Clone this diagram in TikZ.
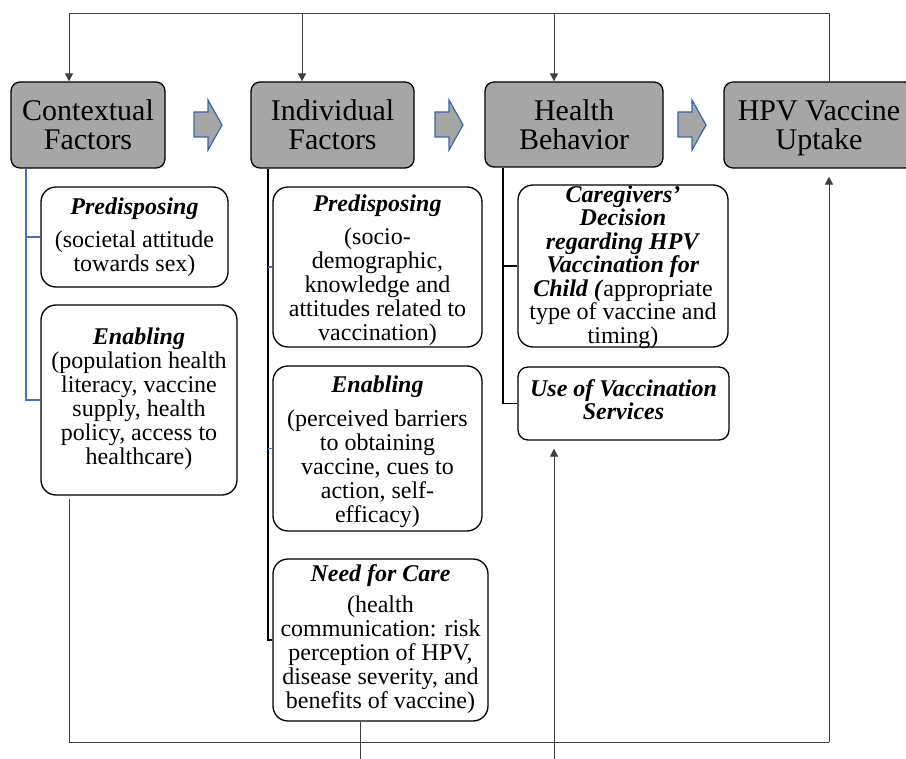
\documentclass[tikz,border=0pt]{standalone}
\usepackage{fontspec}
\setmainfont{Liberation Serif}
\usetikzlibrary{arrows.meta}
\definecolor{hdrgray}{HTML}{A6A6A6}
\definecolor{arrblue}{HTML}{3A64B0}
\definecolor{lnblue}{HTML}{4472C4}
\definecolor{lngray}{HTML}{404040}
\newcommand{\hdg}[1]{\textbf{\textit{#1}}}
\begin{document}
\begin{tikzpicture}[x=1pt,y=-1pt,
  hdr/.style={draw=black, line width=1.3pt, fill=hdrgray, rounded corners=9pt, inner sep=0pt,
              align=center, font=\fontsize{30}{29}\selectfont},
  sub/.style={draw=black, line width=1.3pt, fill=white, rounded corners=15pt, inner sep=0pt},
  txt/.style={align=center, inner sep=0pt, font=\fontsize{24}{24}\selectfont},
  conn/.style={draw=lngray, line width=1pt},
  arr/.style={conn, -{Triangle[length=8pt,width=8pt]}},
  barrow/.style={draw=arrblue, fill=hdrgray, line width=1.2pt, line join=miter},
  bline/.style={draw=lnblue, line width=1.1pt},
  kline/.style={draw=black, line width=1.2pt}
]
\useasboundingbox (0,0) rectangle (906,759);

% header boxes
\node[hdr, minimum width=154pt, minimum height=86pt] (ctx) at (88,125) {Contextual\\Factors};
\node[hdr, minimum width=163pt, minimum height=86pt] (ind) at (332.5,125) {Individual\\Factors};
\node[hdr, minimum width=178pt, minimum height=85pt] (hb) at (574,124.5) {Health\\Behavior};
\node[hdr, minimum width=190pt, minimum height=86pt] (hpv) at (819,125) {HPV Vaccine\\\raisebox{0pt}[\height][0pt]{Uptake}};

% block arrows
\foreach \x in {194,435,678}
  \path[barrow] (\x,112) -- ({\x+14},112) -- ({\x+14},100) -- ({\x+28},125)
        -- ({\x+14},150) -- ({\x+14},137) -- (\x,137) -- cycle;

% contextual sub-boxes
\node[sub, minimum width=187pt, minimum height=100pt] (cp) at (134.5,237) {};
\node[txt] (cpt) at (134.5,237.5) {\hdg{Predisposing}\\[9pt](societal attitude\\towards sex)};
\node[sub, minimum width=196pt, minimum height=190pt] (ce) at (139,400) {};
\node[txt] (cet) at (139,399) {\hdg{Enabling}\\(population health\\literacy, vaccine\\supply, health\\policy, access to\\healthcare)};

% individual sub-boxes
\node[sub, minimum width=209pt, minimum height=160pt] (ip) at (377.5,267) {};
\node[txt] (ipt) at (377.5,270.5) {\hdg{Predisposing}\\[9pt](socio-\\demographic,\\knowledge and\\attitudes related to\\vaccination)};
\node[sub, minimum width=209pt, minimum height=165pt] (ie) at (377.5,448.5) {};
\node[txt] (iet) at (377.5,452) {\hdg{Enabling}\\[10pt](perceived barriers\\to obtaining\\vaccine, cues to\\action, self-\\efficacy)};
\node[sub, minimum width=215pt, minimum height=162pt] (in) at (380.5,640) {};
\node[txt] (int) at (380.5,639.5) {\hdg{Need for Care}\\[7pt](health\\communication: risk\\perception of HPV,\\disease severity, and\\benefits of vaccine)};

% health behavior sub-boxes
\node[sub, minimum width=210pt, minimum height=162pt] (hc) at (623,266) {};
\node[txt, font=\fontsize{24}{23.5}\selectfont] (hct) at (623,267) {\hdg{Caregivers’}\\\hdg{Decision}\\\hdg{regarding HPV}\\\hdg{Vaccination for}\\\hdg{Child (}appropriate\\type of vaccine and\\timing)};
\node[sub, minimum width=211pt, minimum height=73pt, rounded corners=10pt] (hu) at (623.5,403.5) {};
\node[txt, font=\fontsize{24}{21}\selectfont] (hut) at (623.5,399.4) {\hdg{Use of Vaccination}\\\hdg{Services}};

% top feedback lines
\coordinate (tl) at (69,14);
\coordinate (t2) at (302,14);
\coordinate (t3) at (554,14);
\coordinate (tr) at (829,14);
\draw[conn] (hpv.north -| tr) -- (tr) -- (tl);
\draw[arr] (tl) -- (tl |- ctx.north);
\draw[arr] (t2) -- (t2 |- ind.north);
\draw[arr] (t3) -- (t3 |- hb.north);

% contextual tree (blue)
\coordinate (cj) at (26,400);
\draw[bline] (cj |- ctx.south) -- (cj) -- (ce.west);
\draw[bline] (cj |- cp.west) -- (cp.west);

% individual tree
\coordinate (ij) at (268,640);
\draw[kline] (ij |- ind.south) -- (ij) -- (in.west);
\draw[bline] (ij |- ip.west) -- (ip.west);
\draw[bline] (ij |- ie.west) -- (ie.west);

% health behavior tree
\coordinate (hj) at (503,403.5);
\draw[kline] (hj |- hb.south) -- (hj) -- (hu.west);
\draw[kline] (hj |- hc.west) -- (hc.west);

% bottom lines
\coordinate (bl) at (69,742);
\coordinate (br) at (829,742);
\coordinate (bn) at (360,765);
\coordinate (bu) at (554,765);
\draw[conn] ([yshift=-3pt]bl |- ce.south) -- (bl) -- (br);
\draw[arr, shorten >=8pt] (br) -- (br |- hpv.south);
\draw[conn] (in.south -| bn) -- (bn);
\draw[arr, shorten >=8pt] (bu) -- (bu |- hu.south);
\end{tikzpicture}
\end{document}
